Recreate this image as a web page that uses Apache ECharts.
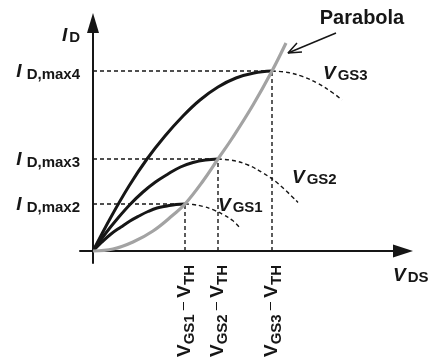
<!DOCTYPE html>
<html><head><meta charset="utf-8">
<script src="https://cdn.jsdelivr.net/npm/echarts@6/dist/echarts.min.js"></script>
<style>html,body{margin:0;padding:0;background:#fff}#c{width:433px;height:357px}</style>
</head><body><div id="c"></div>
<script>
// Positions of V_GS - V_TH on the V_DS axis, and the matching I_D,max levels
const vovX = [92, 125, 179];
const idMax = [47, 92, 180];
const xTickLabels = ['{v|V}{s|GS1}{m| – }{v|V}{s|TH}', '{v|V}{s|GS2}{m| – }{v|V}{s|TH}', '{v|V}{s|GS3}{m| – }{v|V}{s|TH}'];
const yTickLabels = ['{i|I}{s|D,max2}', '{i|I}{s|D,max3}', '{i|I}{s|D,max4}'];
const curveLabels = ['{i|V}{s|GS1}', '{i|V}{s|GS2}', '{i|V}{s|GS3}'];
// triode region (solid)
const triode1 = [[0,0],[9,9],[18,17],[28,24],[37,30],[46,35],[55,39.5],[64,43],[74,45],[83,46.5],[92,47]];
const triode2 = [[0,0],[12.5,17.5],[25,33],[37.5,47],[50,59],[62.5,69],[75,77],[87.5,84],[100,88.5],[112.5,91],[125,92]];
const triode3 = [[0,0],[18,34],[36,65],[54,92],[72,115],[90,135],[107,151],[125,164],[143,173],[161,178],[179,180]];
// continuation past the peak (dashed)
const sat1 = [[92,47],[100,46.5],[110,44.6],[120,41.3],[130,36.5],[140,30.2],[147,23]];
const sat2 = [[125,92],[140,90.5],[155,86],[170,78],[185,67.5],[205,48.5]];
const sat3 = [[179,180],[195,178.5],[210,174.3],[225,167.5],[240,158],[249,151]];
const parabola = [[0,0],[20,2],[40,9],[60,20],[80,36],[92,47],[110,70],[125,92],[140,114],[160,146],[179,180],[193,208]];
// annotation arrow "Parabola"
const arrowShaft = [[243,218],[195,198]];
const arrowHead = [[204,208],[195,198],[209,199]];
const arrowText = 'Parabola';

const FONT = '"Liberation Sans", Arial, Helvetica, sans-serif';
const INK = '#161616';
const GRAY = '#a3a3a3';

const richY = {
  i: {fontFamily: FONT, fontSize: 19, fontWeight: 'bold', fontStyle: 'italic', color: INK, lineHeight: 18, verticalAlign: 'top', padding: [0, 5, 0, 0]},
  s: {fontFamily: FONT, fontSize: 15, fontWeight: 'bold', color: INK, lineHeight: 18, padding: [7, 0, 0, 0]}
};
const richX = {
  v: {fontFamily: FONT, fontSize: 19, fontWeight: 'bold', color: INK, lineHeight: 20, verticalAlign: 'top'},
  s: {fontFamily: FONT, fontSize: 15, fontWeight: 'bold', color: INK, lineHeight: 20, padding: [9, 0, 0, 0]},
  m: {fontFamily: FONT, fontSize: 15, color: INK, lineHeight: 20, verticalAlign: 'top'}
};
const richName = {
  i: {fontFamily: FONT, fontSize: 19, fontWeight: 'bold', fontStyle: 'italic', color: INK, lineHeight: 18, verticalAlign: 'top', padding: [0, 2, 0, 0]},
  s: {fontFamily: FONT, fontSize: 15, fontWeight: 'bold', color: INK, lineHeight: 18, padding: [5, 0, 0, 0]}
};

const dashStyle = {color: INK, width: 1.4, type: [4, 3]};
const lbl = (o) => Object.assign({show: true, color: INK, textBorderWidth: 0, rich: richName}, o);

const series = [];
for (let i = 0; i < 3; i++) {
  series.push({type: 'line', data: [[0, idMax[i]], [vovX[i], idMax[i]]], symbol: 'none', lineStyle: dashStyle, z: 2, silent: true});
  series.push({type: 'line', data: [[vovX[i], 0], [vovX[i], idMax[i]]], symbol: 'none', lineStyle: dashStyle, z: 2, silent: true});
}
[sat1, sat2, sat3].forEach(d => series.push({type: 'line', data: d, smooth: 0.4, symbol: 'none', lineStyle: dashStyle, z: 3}));
[triode1, triode2, triode3].forEach(d => series.push({type: 'line', data: d, smooth: 0.4, symbol: 'none', lineStyle: {color: INK, width: 3}, z: 4}));
series.push({type: 'line', data: parabola, smooth: 0.4, symbol: 'none', lineStyle: {color: GRAY, width: 3.2}, z: 5});
series.push({type: 'line', data: arrowShaft, symbol: 'none', lineStyle: {color: INK, width: 1.5}, z: 6});
series.push({type: 'line', data: arrowHead, symbol: 'none', lineStyle: {color: INK, width: 1.5}, z: 6});
// text labels anchored on curve points
series.push({
  type: 'scatter', symbolSize: 0, z: 7, silent: true, itemStyle: {opacity: 1, color: INK},
  data: [
    {value: sat1[3], label: lbl({position: 'right', distance: 5, offset: [0, -4], formatter: curveLabels[0]})},
    {value: sat2[3], label: lbl({position: 'right', distance: 29, offset: [0, 4], formatter: curveLabels[1]})},
    {value: sat3[2], label: lbl({position: 'right', distance: 20, offset: [0, -3], formatter: curveLabels[2]})},
    {value: arrowShaft[0], label: lbl({position: 'top', distance: 5, offset: [26, 0], formatter: arrowText, fontFamily: FONT, fontSize: 20, fontWeight: 'bold'})}
  ]
});

const chart = echarts.init(document.getElementById('c'), null, {renderer: 'canvas'});
chart.setOption({
  animation: false,
  backgroundColor: '#fff',
  grid: {left: 80, right: 30, top: 23, bottom: 94, outerBoundsMode: 'none', containLabel: false},
  xAxis: {
    type: 'value', min: -13, max: 310,
    name: '{i|V}{s|DS}', nameLocation: 'end', nameGap: -10,
    nameTextStyle: {rich: richName, verticalAlign: 'top', padding: [15, 0, 0, 0]},
    axisLine: {onZero: true, symbol: ['none', 'triangle'], symbolSize: [13, 20], lineStyle: {color: INK, width: 2}},
    axisTick: {show: false}, splitLine: {show: false},
    axisLabel: {customValues: vovX, rotate: 90, margin: 2, formatter: v => xTickLabels[vovX.indexOf(v)], rich: richX}
  },
  yAxis: {
    type: 'value', min: -12, max: 228,
    name: '{i|I}{s|D}', nameLocation: 'end', nameGap: -21,
    nameTextStyle: {rich: richName, align: 'right', verticalAlign: 'bottom', padding: [0, 13, 0, 0]},
    axisLine: {onZero: true, symbol: ['none', 'triangle'], symbolSize: [12, 20], lineStyle: {color: INK, width: 2}},
    axisTick: {show: false}, splitLine: {show: false},
    axisLabel: {customValues: idMax, margin: 0, formatter: v => yTickLabels[idMax.indexOf(v)], rich: richY}
  },
  series: series
});
</script></body></html>
